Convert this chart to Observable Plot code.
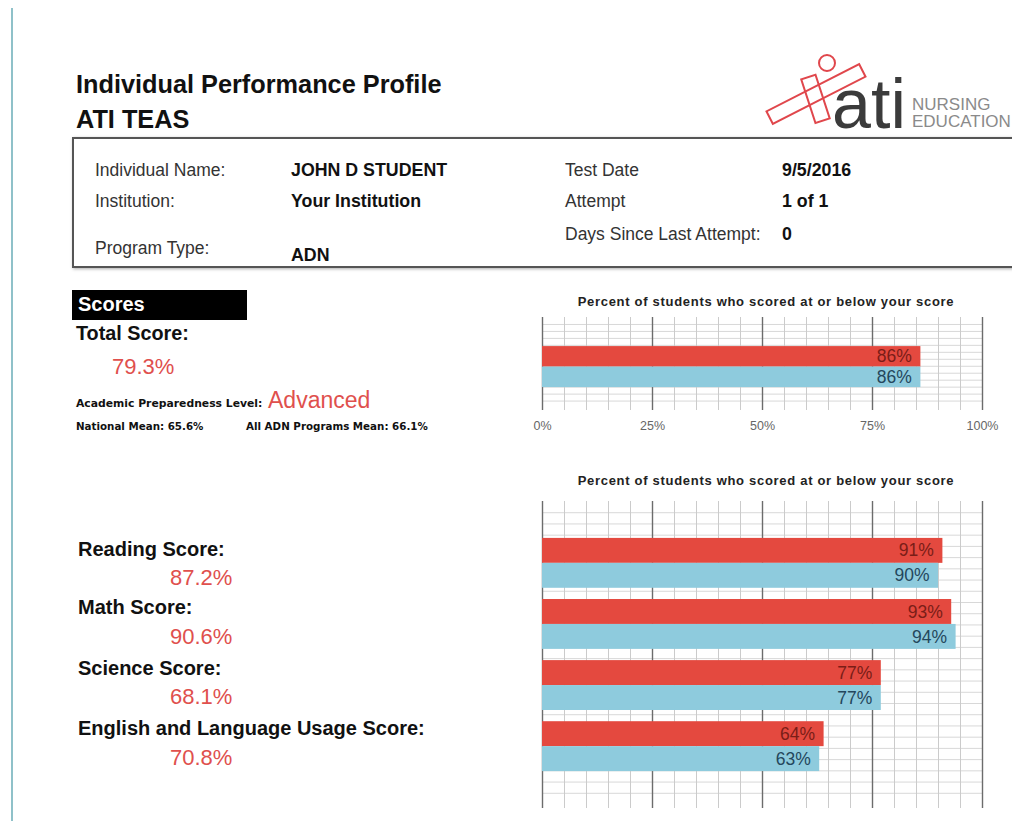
<!DOCTYPE html>
<html><head><meta charset="utf-8">
<script src="https://cdn.jsdelivr.net/npm/d3@7"></script>
<script src="https://cdn.jsdelivr.net/npm/@observablehq/plot@0.6"></script>
<style>
html,body{margin:0;padding:0;background:#fff;}
body{width:1012px;height:821px;overflow:hidden;position:relative;font-family:"Liberation Sans",Arial,sans-serif;color:#111;}
.t{position:absolute;line-height:1;white-space:nowrap;}
.lab{font-size:17.5px;color:#333;}
.val{font-size:17.8px;font-weight:bold;color:#111;}
.red{color:#e0504d;}
.chart{position:absolute;}
.ctitle{position:absolute;font-size:13px;letter-spacing:0.7px;font-weight:bold;color:#222;white-space:nowrap;line-height:1;transform:translateX(-50%);}
.small{font-weight:bold;font-family:'DejaVu Sans';}
</style></head><body>
<div style="position:absolute;left:11px;top:8px;width:2px;height:813px;background:#8fc1c9;"></div>

<div class="t" style="left:76px;top:71.5px;font-size:25.3px;font-weight:bold;">Individual Performance Profile</div>
<div class="t" style="left:76px;top:106.5px;font-size:25.3px;font-weight:bold;">ATI TEAS</div>

<svg style="position:absolute;left:0;top:0;" width="1012" height="150">
  <g fill="none" stroke="#e0474c" stroke-width="2">
    <rect x="764" y="87" width="104" height="14" transform="rotate(-27 816 94)"/>
    <rect x="808" y="76" width="15" height="46" transform="rotate(-18 815 99)"/>
    <circle cx="827" cy="63" r="8"/>
  </g>
  <text x="832" y="128" font-size="70" fill="#3b3b3b" font-family="Liberation Sans, Arial">ati</text>
  <text x="912" y="110" font-size="17" fill="#8a8a8a" font-family="Liberation Sans, Arial">NURSING</text>
  <text x="912" y="127" font-size="17" fill="#8a8a8a" font-family="Liberation Sans, Arial">EDUCATION</text>
</svg>

<div style="position:absolute;left:72px;top:137px;width:980px;height:131px;box-sizing:border-box;border:2px solid #555;box-shadow:1px 1px 3px #aaa;"></div>
<div class="t lab" style="left:95px;top:161.5px;">Individual Name:</div>
<div class="t val" style="left:291px;top:161.5px;">JOHN D STUDENT</div>
<div class="t lab" style="left:565px;top:161.5px;">Test Date</div>
<div class="t val" style="left:782px;top:161.5px;">9/5/2016</div>
<div class="t lab" style="left:95px;top:192.5px;">Institution:</div>
<div class="t val" style="left:291px;top:192.5px;">Your Institution</div>
<div class="t lab" style="left:565px;top:192.5px;">Attempt</div>
<div class="t val" style="left:782px;top:192.5px;">1 of 1</div>
<div class="t lab" style="left:565px;top:225.5px;">Days Since Last Attempt:</div>
<div class="t val" style="left:782px;top:225.5px;">0</div>
<div class="t lab" style="left:95px;top:239.5px;">Program Type:</div>
<div class="t val" style="left:291px;top:246.5px;">ADN</div>

<div style="position:absolute;left:72px;top:290px;width:175px;height:30px;background:#000;"></div>
<div class="t" style="left:78px;top:294px;font-size:20px;font-weight:bold;color:#fff;">Scores</div>
<div class="t" style="left:76px;top:324px;font-size:19.8px;font-weight:bold;">Total Score:</div>
<div class="t red" id="totalScore" style="left:112px;top:356px;font-size:22px;"></div>
<div class="t small" style="left:76px;top:398.5px;font-size:10.8px;">Academic Preparedness Level:</div>
<div class="t red" style="left:268px;top:388.5px;font-size:23px;">Advanced</div>
<div class="t small" id="natMean" style="left:76px;top:420.5px;font-size:10.3px;"></div>
<div class="t small" id="progMean" style="left:246px;top:420.5px;font-size:10.3px;"></div>

<div id="subs"></div>

<div class="ctitle" style="left:766px;top:294.5px;">Percent of students who scored at or below your score</div>
<div class="ctitle" style="left:766px;top:473.5px;">Percent of students who scored at or below your score</div>
<div class="chart" id="c1" style="left:522px;top:307px;"></div>
<div class="chart" id="c2" style="left:522px;top:491px;"></div>

<script>
// ---- data ----
const totalCategory = ["Total"];
const totalRed = [86];
const totalBlue = [86];
const totalScoreText = "79.3%";
const nationalMean = "65.6%";
const programMean = "66.1%";

const subjects = ["Reading Score:", "Math Score:", "Science Score:", "English and Language Usage Score:"];
const subjectScores = ["87.2%", "90.6%", "68.1%", "70.8%"];
const subjectRed = [91, 93, 77, 64];
const subjectBlue = [90, 94, 77, 63];

const tickValues = [0, 25, 50, 75, 100];
const tickLabels = ["0%", "25%", "50%", "75%", "100%"];
const minorTicks = [5, 10, 15, 20, 30, 35, 40, 45, 55, 60, 65, 70, 80, 85, 90, 95];

const RED = "#e4493f", BLUE = "#8ecbdd", RED_TXT = "#7a1d17", BLUE_TXT = "#24475c";

// ---- left texts ----
document.getElementById("totalScore").textContent = totalScoreText;
document.getElementById("natMean").textContent = "National Mean: " + nationalMean;
document.getElementById("progMean").textContent = "All ADN Programs Mean: " + programMean;
const subTops = [549, 607, 668, 728];
const valTops = [578, 637, 697, 758];
const subs = document.getElementById("subs");
subjects.forEach((s, i) => {
  const a = document.createElement("div");
  a.className = "t"; a.textContent = s;
  a.style.cssText = `left:78px;top:${subTops[i] - 10}px;font-size:20px;font-weight:bold;`;
  subs.appendChild(a);
  const b = document.createElement("div");
  b.className = "t red"; b.textContent = subjectScores[i];
  b.style.cssText = `left:170px;top:${valTops[i] - 11}px;font-size:22px;`;
  subs.appendChild(b);
});

// ---- charts ----
function gridChart({cats, red, blue, padTop, padBottom, gap, barPx, gridStep, axis}) {
  const rows = [];
  cats.forEach((c, i) => {
    [red, blue].forEach((vals, s) => {
      const y1 = padTop + i * (2 + gap) + s;
      rows.push({cat: c, s, value: vals[i], y1, y2: y1 + 1});
    });
  });
  const total = padTop + cats.length * 2 + (cats.length - 1) * gap + padBottom;
  const mt = 10, mb = axis ? 30 : 10;
  const redRows = rows.filter(d => d.s === 0), blueRows = rows.filter(d => d.s === 1);
  const marks = [
    Plot.ruleY(d3.range(gridStep, total - gridStep / 2, gridStep), {x1: 0, x2: 100, stroke: "#d8d8d8", strokeWidth: 1}),
    Plot.ruleX(minorTicks, {stroke: "#cbcbcb", strokeWidth: 1}),
    Plot.ruleX(tickValues, {stroke: "#6c6c6c", strokeWidth: 1.4}),
    Plot.rect(redRows, {x1: () => 0, x2: "value", y1: "y1", y2: "y2", fill: RED}),
    Plot.rect(blueRows, {x1: () => 0, x2: "value", y1: "y1", y2: "y2", fill: BLUE}),
    Plot.text(redRows, {x: "value", y: d => (d.y1 + d.y2) / 2, text: d => d.value + "%", textAnchor: "end", dx: -9, fill: RED_TXT, fontSize: 17.5}),
    Plot.text(blueRows, {x: "value", y: d => (d.y1 + d.y2) / 2, text: d => d.value + "%", textAnchor: "end", dx: -9, fill: BLUE_TXT, fontSize: 17.5})
  ];
  if (axis) marks.push(Plot.axisX(tickValues, {tickFormat: (d, i) => tickLabels[i], tickSize: 0, tickPadding: 11, fontSize: 12.5, fill: "#666", label: null}));
  return Plot.plot({
    width: 482, height: Math.round(total * barPx) + mt + mb,
    marginLeft: 20, marginRight: 22, marginTop: mt, marginBottom: mb,
    x: {domain: [0, 100], axis: axis ? undefined : null},
    y: {domain: [0, total], reverse: true, axis: null},
    style: {background: "transparent", fontFamily: "Liberation Sans, Arial, sans-serif", overflow: "visible"},
    marks
  });
}

document.getElementById("c1").appendChild(gridChart({
  cats: totalCategory, red: totalRed, blue: totalBlue,
  padTop: 1.42, padBottom: 1.12, gap: 0, barPx: 20.5, gridStep: 0.34, axis: true
}));
document.getElementById("c2").appendChild(gridChart({
  cats: subjects, red: subjectRed, blue: subjectBlue,
  padTop: 1.48, padBottom: 1.48, gap: 0.45, barPx: 24.95, gridStep: 0.45, axis: false
}));
</script>
</body></html>
